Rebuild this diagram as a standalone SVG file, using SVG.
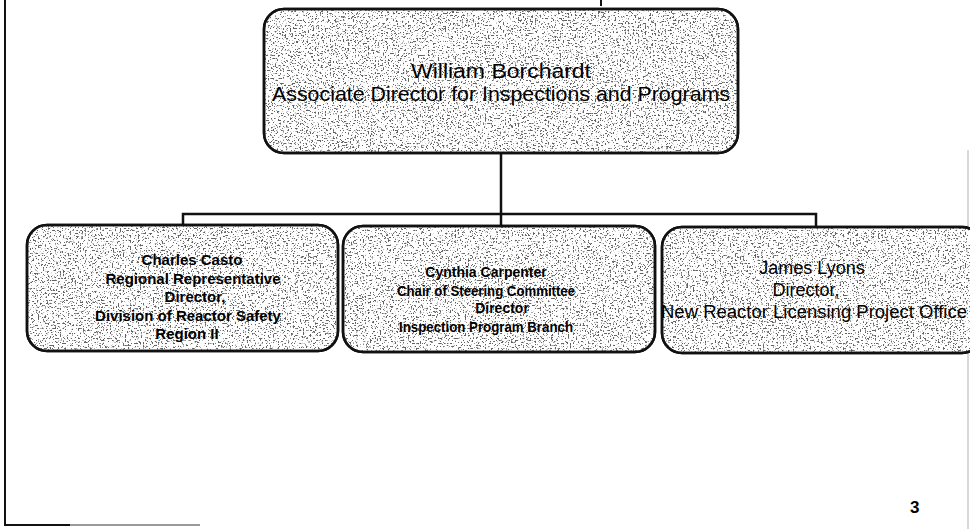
<svg xmlns="http://www.w3.org/2000/svg" width="970" height="529" viewBox="0 0 970 529">
  <defs>
    <filter id="stip" x="0" y="0" width="1" height="1">
      <feTurbulence type="fractalNoise" baseFrequency="0.6" numOctaves="2" seed="11" result="n"/>
      <feColorMatrix in="n" type="matrix" values="0 0 0 0 0.12  0 0 0 0 0.12  0 0 0 0 0.12  11 0 0 0 -6.4"/>
      <feComposite operator="in" in2="SourceGraphic"/>
    </filter>
    <style>
      .box { fill: #ffffff; stroke: #111111; stroke-width: 2.5; }
      .tex { fill: #ffffff; filter: url(#stip); }
      .edge { fill: none; stroke: #111111; stroke-width: 2.5; }
      .conn { fill: none; stroke: #111111; stroke-width: 2.5; }
      .frame { fill: none; stroke: #111111; stroke-width: 2; }
      .t1 { font-family: "Liberation Sans", Arial, sans-serif; font-size: 21px; fill: #000000; text-anchor: middle; }
      .t2 { font-family: "Liberation Sans", Arial, sans-serif; font-size: 15px; font-weight: bold; fill: #000000; text-anchor: middle; }
      .t2m { font-family: "Liberation Sans", Arial, sans-serif; font-size: 14px; font-weight: bold; fill: #000000; text-anchor: middle; }
      .t3 { font-family: "Liberation Sans", Arial, sans-serif; font-size: 18px; fill: #000000; text-anchor: middle; }
      .pg { font-family: "Liberation Sans", Arial, sans-serif; font-size: 17px; font-weight: bold; fill: #000000; }
    </style>
  </defs>

  <!-- page frame -->
  <g id="frame">
    <path class="frame" d="M5,0 V525 H70"/>
    <line x1="70" y1="525" x2="200" y2="525" stroke="#9a9a9a" stroke-width="2"/>
    <line x1="968" y1="150" x2="968" y2="529" stroke="#b0b0b0" stroke-width="1"/>
    <line x1="601" y1="0" x2="601" y2="6" stroke="#111111" stroke-width="2"/>
  </g>

  <!-- connectors -->
  <g id="connectors">
    <path class="conn" d="M501,153 V226"/>
    <path class="conn" d="M183,226 V214 H816 V226"/>
  </g>

  <g id="node-borchardt">
    <rect class="box" x="264" y="9" width="474" height="144" rx="20"/>
    <rect class="tex" x="264" y="9" width="474" height="144" rx="20"/>
    <rect class="edge" x="264" y="9" width="474" height="144" rx="20"/>
    <text class="t1" x="501" y="78" textLength="180" lengthAdjust="spacingAndGlyphs">William Borchardt</text>
    <text class="t1" x="501" y="101" textLength="458" lengthAdjust="spacingAndGlyphs">Associate Director for Inspections and Programs</text>
  </g>

  <g id="node-casto">
    <rect class="box" x="27" y="225" width="311" height="126" rx="20"/>
    <rect class="tex" x="27" y="225" width="311" height="126" rx="20"/>
    <rect class="edge" x="27" y="225" width="311" height="126" rx="20"/>
    <text class="t2" x="192" y="265">Charles Casto</text>
    <text class="t2" x="193" y="284">Regional Representative</text>
    <text class="t2" x="195" y="302">Director,</text>
    <text class="t2" x="188" y="321">Division of Reactor Safety</text>
    <text class="t2" x="187" y="339">Region II</text>
  </g>

  <g id="node-carpenter">
    <rect class="box" x="343" y="226" width="312" height="126" rx="20"/>
    <rect class="tex" x="343" y="226" width="312" height="126" rx="20"/>
    <rect class="edge" x="343" y="226" width="312" height="126" rx="20"/>
    <text class="t2m" x="486" y="277">Cynthia Carpenter</text>
    <text class="t2m" x="486" y="296" textLength="178" lengthAdjust="spacingAndGlyphs">Chair of Steering Committee</text>
    <text class="t2m" x="502" y="313">Director</text>
    <text class="t2m" x="486" y="332" textLength="174" lengthAdjust="spacingAndGlyphs">Inspection Program Branch</text>
  </g>

  <g id="node-lyons">
    <rect class="box" x="662" y="227" width="320" height="126" rx="20"/>
    <rect class="tex" x="662" y="227" width="320" height="126" rx="20"/>
    <rect class="edge" x="662" y="227" width="320" height="126" rx="20"/>
    <text class="t3" x="812" y="274">James Lyons</text>
    <text class="t3" x="806" y="296">Director,</text>
    <text class="t3" x="814" y="318" textLength="306" lengthAdjust="spacingAndGlyphs">New Reactor Licensing Project Office</text>
  </g>

  <text class="pg" x="910" y="513">3</text>
</svg>
